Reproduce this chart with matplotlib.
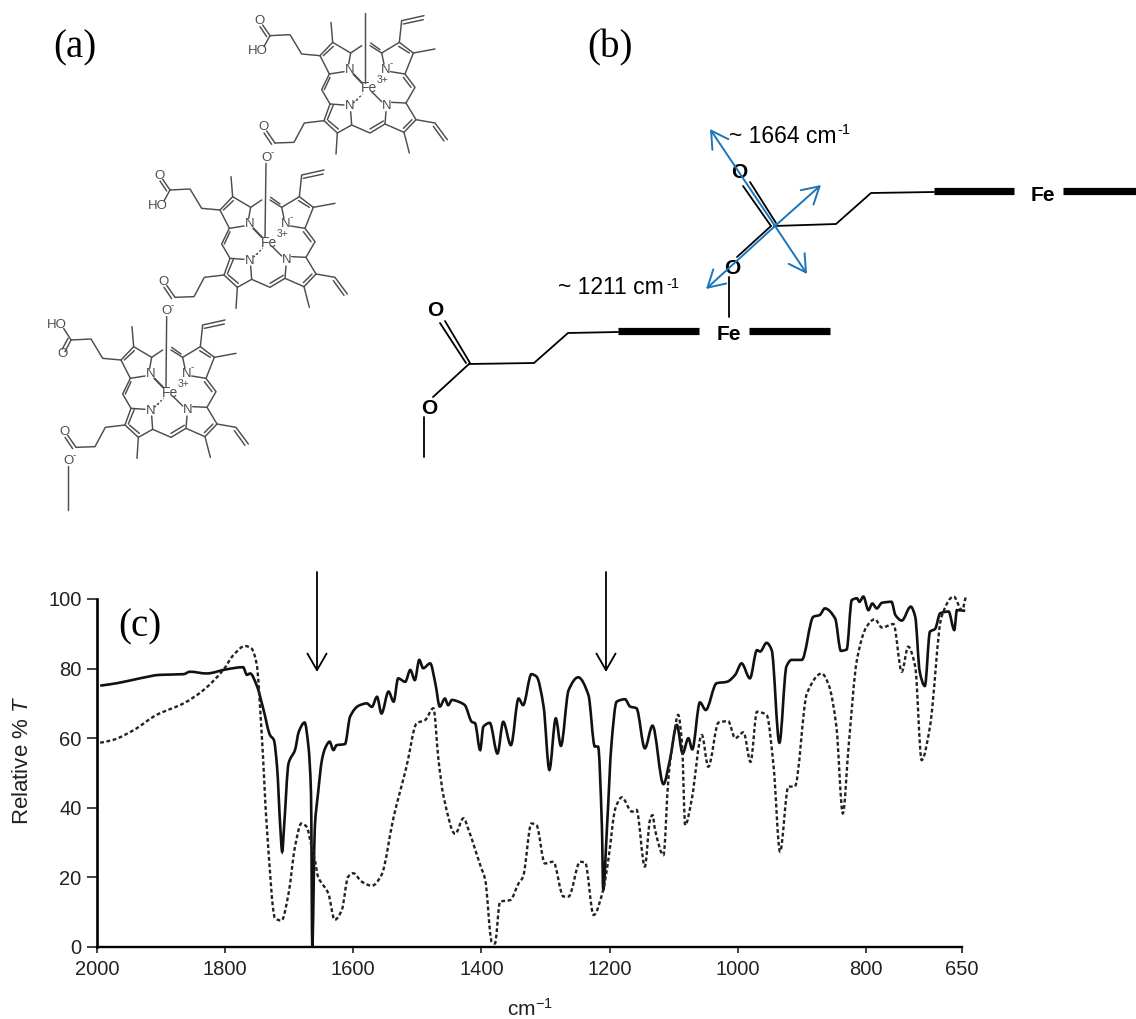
import matplotlib

matplotlib.use("Agg")
import matplotlib.pyplot as plt
import numpy as np
from matplotlib.patches import PathPatch
from matplotlib.path import Path

plt.rcParams["font.family"] = ["Liberation Sans", "DejaVu Sans"]
plt.rcParams["mathtext.fontset"] = "custom"
plt.rcParams["mathtext.rm"] = "Liberation Sans"
plt.rcParams["mathtext.it"] = "Liberation Sans:italic"
plt.rcParams["mathtext.default"] = "regular"

# solid spectrum
solid_x = [1995, 1969, 1933, 1902, 1865, 1855, 1829, 1798, 1772, 1766, 1761, 1751, 1740, 1730, 1724,
           1719, 1714, 1711, 1708, 1701, 1691, 1685, 1676, 1670, 1666, 1664, 1660, 1655, 1649, 1644,
           1637, 1631, 1626, 1613, 1605, 1592, 1579, 1571, 1563, 1556, 1545, 1537, 1530, 1519, 1511,
           1504, 1497, 1491, 1480, 1472, 1465, 1457, 1452, 1446, 1436, 1426, 1415, 1410, 1402, 1397,
           1387, 1375, 1366, 1354, 1342, 1335, 1322, 1314, 1303, 1294, 1284, 1276, 1264, 1249, 1233,
           1223, 1218, 1212, 1210, 1204, 1197, 1189, 1176, 1168, 1158, 1145, 1133, 1116, 1106, 1095,
           1086, 1077, 1071, 1059, 1050, 1033, 1017, 1004, 994, 981, 970, 965, 955, 947, 935,
           924, 916, 900, 882, 872, 864, 848, 839, 830, 822, 814, 810, 804, 796, 790,
           783, 775, 760, 754, 744, 730, 723, 716, 708, 700, 692, 684, 671, 662, 658, 645]
solid_y = [75.1, 75.8, 77.2, 78.2, 78.4, 79.1, 78.6, 79.8, 80.4, 78.2, 78.6, 75.3, 68.1, 60.9, 59.5,
           51.8, 34.6, 27.4, 34.6, 52.8, 56.6, 61.9, 64.5, 57.6, 44.2, 0.0, 34.6, 44.2, 53.7, 57.1,
           59.0, 56.6, 58.0, 58.3, 66.2, 69.3, 70.0, 69.0, 71.9, 67.1, 73.4, 70.5, 77.2, 76.2, 79.6,
           76.7, 82.5, 80.1, 81.5, 75.8, 69.1, 71.4, 69.5, 71.0, 70.5, 69.5, 64.7, 64.3, 56.6, 63.3,
           64.4, 55.6, 64.7, 58.0, 71.4, 69.5, 78.4, 77.7, 69.1, 50.9, 65.7, 57.8, 73.8, 77.5, 72.4,
           57.6, 57.6, 34.6, 16.4, 34.6, 58.5, 70.5, 71.2, 69.1, 68.6, 57.1, 63.6, 46.8, 53.7, 63.8,
           55.6, 60.0, 56.8, 70.3, 68.1, 75.8, 76.2, 78.2, 81.5, 77.2, 85.3, 84.9, 87.4, 85.3, 58.7,
           80.6, 82.5, 82.5, 94.9, 95.4, 97.3, 94.4, 85.1, 85.5, 99.7, 100.2, 99.2, 100.7, 96.8, 98.7,
           97.3, 98.9, 99.2, 95.4, 93.8, 97.8, 94.9, 79.1, 75.0, 90.6, 91.4, 95.9, 96.4, 91.1, 96.8, 96.6]

# dashed spectrum
dashed_x = [1995, 1975, 1943, 1907, 1865, 1834, 1803, 1787, 1769, 1759, 1751, 1743, 1735, 1722, 1712,
            1701, 1691, 1681, 1673, 1665, 1660, 1655, 1639, 1629, 1618, 1608, 1600, 1587, 1571, 1556,
            1537, 1517, 1501, 1488, 1475, 1467, 1459, 1441, 1428, 1420, 1402, 1394, 1384, 1379, 1371,
            1355, 1342, 1335, 1322, 1314, 1301, 1288, 1272, 1264, 1246, 1238, 1225, 1210, 1202, 1191,
            1181, 1165, 1158, 1145, 1137, 1133, 1129, 1116, 1108, 1100, 1093, 1087, 1082, 1072, 1056,
            1046, 1030, 1015, 1004, 991, 980, 970, 955, 944, 934, 921, 911, 892, 869, 858,
            846, 836, 827, 814, 799, 786, 775, 757, 744, 734, 723, 713, 700, 682, 663, 650, 644]
dashed_y = [58.7, 59.5, 62.3, 66.7, 70.0, 73.8, 79.6, 83.9, 86.5, 85.8, 81.5, 61.4, 34.6, 8.2, 7.6,
            15.4, 28.8, 35.5, 34.6, 28.8, 25.0, 20.2, 15.4, 7.8, 10.6, 20.2, 21.2, 18.8, 17.6, 20.7,
            37.4, 51.8, 64.3, 65.2, 68.6, 53.7, 43.2, 32.5, 37.0, 33.6, 23.6, 19.2, 1.5, 1.0, 13.0,
            13.5, 18.3, 20.2, 35.5, 35.0, 24.0, 24.5, 14.5, 14.5, 24.5, 24.2, 9.2, 16.4, 25.0, 39.8,
            43.0, 38.9, 39.4, 23.1, 36.5, 37.9, 33.6, 26.4, 48.9, 60.4, 66.7, 58.5, 35.0, 42.2, 60.9,
            51.8, 64.5, 64.9, 60.0, 61.7, 53.2, 67.6, 66.7, 51.8, 27.4, 46.1, 46.1, 72.9, 78.6, 75.3,
            63.3, 38.4, 57.6, 82.5, 92.0, 94.2, 91.8, 92.8, 79.1, 86.3, 80.5, 53.7, 63.3, 94.9, 100.7, 96.8, 100.7]

x_ticks = [2000, 1800, 1600, 1400, 1200, 1000, 800, 650]
y_ticks = [0, 20, 40, 60, 80, 100]

W, H = 1136, 1019
GREY = "#4d4d4d"
BLUE = "#1b75bb"

# heme drawing, polylines in the coordinates of the middle molecule
HEME_LINES = [
    [(600, 630), (638, 590), (692, 622), (686, 655)],
    [(672, 678), (628, 685), (600, 630)],
    [(610, 630), (640, 602)],
    [(638, 590), (633, 530)],
    [(692, 622), (725, 600)],
    [(600, 630), (545, 625), (510, 567), (450, 570)],
    [(880, 622), (838, 590), (785, 622), (792, 655)],
    [(812, 678), (855, 685), (880, 622)],
    [(868, 622), (836, 602)],
    [(880, 622), (945, 610)],
    [(838, 590), (845, 525), (912, 510)],
    [(850, 535), (910, 522)],
    [(785, 622), (750, 600)],
    [(780, 612), (752, 592)],
    [(628, 685), (605, 732), (630, 775)],
    [(630, 695), (613, 732)],
    [(855, 685), (885, 725), (858, 772)],
    [(850, 695), (873, 725)],
    [(672, 778), (630, 775), (612, 825), (652, 862), (695, 838), (692, 798)],
    [(625, 825), (655, 850)],
    [(640, 778), (622, 822)],
    [(612, 825), (553, 832), (522, 890), (465, 892)],
    [(652, 862), (648, 925)],
    [(815, 770), (858, 772), (888, 822), (852, 860), (795, 835), (798, 798)],
    [(876, 822), (850, 848)],
    [(888, 822), (945, 832), (982, 882)],
    [(940, 842), (972, 886)],
    [(852, 860), (868, 922)],
    [(695, 838), (750, 862), (795, 835)],
    [(750, 850), (790, 826)],
    [(465, 892), (440, 856)],
    [(455, 896), (432, 862)],
    [(755, 738), (785, 768)],
]
CARBOXYL_UP = [[(450, 570), (428, 538)], [(440, 573), (420, 543)], [(450, 570), (432, 603)]]
CARBOXYL_DOWN = [[(450, 570), (432, 605)], [(441, 565), (424, 597)], [(450, 570), (428, 535)]]


def zoom_to_px(px, py, dx, dy):
    """Goes from the middle molecule coordinates to figure pixels."""
    return 20 + (px + dx) / 3, (py + dy) / 3


def draw_line(ax, points, dx, dy, **style):
    xs, ys = zip(*[zoom_to_px(p[0], p[1], dx, dy) for p in points])
    ax.plot(xs, ys, solid_capstyle="round", **style)


def draw_heme(ax, dx, dy, flip_acid):
    style = {"color": GREY, "lw": 1.05}
    for line in HEME_LINES:
        draw_line(ax, line, dx, dy, **style)
    for line in CARBOXYL_DOWN if flip_acid else CARBOXYL_UP:
        draw_line(ax, line, dx, dy, **style)

    # dashed and wedge bonds to the iron
    draw_line(ax, [(700, 685), (726, 712)], dx, dy, color=GREY, lw=1.5)
    draw_line(ax, [(700, 772), (728, 745)], dx, dy, color=GREY, lw=1.0, ls=(0, (1.5, 1.5)))

    labels = [("N", 688, 673, 9.5), ("N", 690, 782, 9.5), ("N", 800, 780, 9.5), ("N", 797, 672, 9.5),
              ("Fe", 747, 728, 10), ("3+", 788, 703, 7.5), ("-", 815, 652, 7), ("-", 710, 763, 7)]
    if flip_acid:
        labels += [("O", 425, 612, 9.5), ("HO", 408, 525, 9.5)]
    else:
        labels += [("O", 418, 527, 9.5), ("HO", 413, 617, 9.5)]
    labels += [("O", 430, 845, 9.5)]
    for text, px, py, size in labels:
        x, y = zoom_to_px(px, py, dx, dy)
        ax.text(x, y, text, color=GREY, fontsize=size, ha="center", va="center")


def draw_arrow(ax, start, tip, color, lw):
    ax.annotate("", xy=tip, xytext=start,
                arrowprops=dict(arrowstyle="->,head_length=0.4,head_width=0.23", color=color, lw=lw,
                                mutation_scale=30, shrinkA=0, shrinkB=0))


def draw_molecules(ax):
    # top, middle and lower heme
    draw_heme(ax, 300, -463, False)
    draw_heme(ax, 0, 0, False)
    draw_heme(ax, -297, 450, True)

    # axial lines and the oxygen bridges
    style = {"color": GREY, "lw": 1.05}
    draw_line(ax, [(1035, 40), (1035, 250)], 0, 0, **style)
    draw_line(ax, [(738, 490), (735, 710)], 0, 0, **style)
    draw_line(ax, [(440, 950), (438, 1160)], 0, 0, **style)
    draw_line(ax, [(143, 1398), (143, 1530)], 0, 0, **style)
    for text, px, py in [("O", 738, 473), ("O", 440, 933), ("O", 145, 1382)]:
        x, y = zoom_to_px(px, py, 0, 0)
        ax.text(x, y, text, color=GREY, fontsize=9.5, ha="center", va="center")
        ax.text(x + 6, y - 6, "-", color=GREY, fontsize=7, ha="center", va="center")


def draw_scheme(ax):
    line = {"color": "black", "lw": 1.3, "solid_capstyle": "round"}
    thick = {"color": "black", "lw": 5.2, "solid_capstyle": "butt"}

    # upper ester
    ax.plot([774, 836, 871, 934], [226, 224, 193, 192], **line)
    ax.plot([743, 771], [186, 226], **line)
    ax.plot([750, 776], [182, 223], **line)
    ax.plot([771, 737], [226, 257], **line)
    ax.plot([729, 729], [277, 317], **line)
    ax.plot([934, 1014], [191, 191], **thick)
    ax.plot([1063, 1136], [191, 191], **thick)

    # lower ester
    ax.plot([469, 534, 568, 618], [364, 363, 333, 332], **line)
    ax.plot([440, 466], [323, 363], **line)
    ax.plot([445, 470], [321, 363], **line)
    ax.plot([469, 433], [364, 397], **line)
    ax.plot([424, 424], [417, 457], **line)
    ax.plot([618, 699], [331, 331], **thick)
    ax.plot([749, 830], [331, 331], **thick)

    for text, x, y in [("O", 739, 172), ("O", 732, 268), ("O", 435, 311), ("O", 429, 408),
                       ("Fe", 1043, 195), ("Fe", 729, 334)]:
        ax.text(x, y, text, fontsize=15, fontweight="bold", ha="center", va="center")

    # stretching directions
    draw_arrow(ax, (775, 226), (710, 129), BLUE, 1.4)
    draw_arrow(ax, (775, 226), (807, 274), BLUE, 1.4)
    draw_arrow(ax, (775, 226), (821, 185), BLUE, 1.4)
    draw_arrow(ax, (775, 226), (706, 289), BLUE, 1.4)

    ax.text(729, 136, "~ 1664 cm", fontsize=16.5, ha="left", va="center")
    ax.text(837, 130, "-1", fontsize=10.5, ha="left", va="center")
    ax.text(558, 288, "~ 1211 cm", fontsize=16.5, ha="left", va="center")
    ax.text(666, 284, "-1", fontsize=10.5, ha="left", va="center")


def smooth_path(xs, ys):
    """Curve through the read points only, flat at each peak and dip so it never overshoots."""
    x = np.array(xs, dtype=float)
    y = np.array(ys, dtype=float)
    h = np.diff(x)
    secant = np.diff(y) / h
    slope = np.zeros(len(x))
    for i in range(1, len(x) - 1):
        if secant[i - 1] * secant[i] > 0:
            slope[i] = 2 * secant[i - 1] * secant[i] / (secant[i - 1] + secant[i])
    slope[0] = secant[0]
    slope[-1] = secant[-1]

    verts = [(x[0], y[0])]
    codes = [Path.MOVETO]
    for i in range(len(h)):
        verts.append((x[i] + h[i] / 3, y[i] + slope[i] * h[i] / 3))
        verts.append((x[i + 1] - h[i] / 3, y[i + 1] - slope[i + 1] * h[i] / 3))
        verts.append((x[i + 1], y[i + 1]))
        codes += [Path.CURVE4, Path.CURVE4, Path.CURVE4]
    return Path(verts, codes)


def draw_spectrum(fig):
    ax = fig.add_axes([97 / W, 1 - 947 / H, 865 / W, 348 / H])
    ax.add_patch(PathPatch(smooth_path(solid_x, solid_y), fill=False, edgecolor="#111111", lw=1.9,
                           clip_on=False))
    ax.add_patch(PathPatch(smooth_path(dashed_x, dashed_y), fill=False, edgecolor="#222222", lw=1.7,
                           ls=(0, (1.6, 1.1)), clip_on=False))
    ax.set_xlim(2000, 650)
    ax.set_ylim(0, 100)
    ax.set_xticks(x_ticks)
    ax.set_yticks(y_ticks)
    ax.tick_params(axis="x", labelsize=14.5, length=4, width=1.2, pad=5.5, colors="#222222")
    ax.tick_params(axis="y", labelsize=14.5, length=7, width=1.2, pad=4, colors="#222222")
    ax.spines["top"].set_visible(False)
    ax.spines["right"].set_visible(False)
    ax.spines["left"].set_linewidth(1.9)
    ax.spines["bottom"].set_linewidth(1.7)
    ax.patch.set_alpha(0)
    ax.set_ylabel("Relative % $\\mathit{T}$", fontsize=16, color="#222222", va="center")
    ax.yaxis.set_label_coords(-0.086, 0.537)
    ax.set_xlabel("cm$^{-1}$", fontsize=15, color="#222222", va="center")
    ax.xaxis.set_label_coords(0.5, -0.178)


def main():
    fig = plt.figure(figsize=(W / 100, H / 100), dpi=100)

    sketch = fig.add_axes([0, 0, 1, 1])
    sketch.set_xlim(0, W)
    sketch.set_ylim(H, 0)
    sketch.axis("off")

    draw_spectrum(fig)
    draw_molecules(sketch)
    draw_scheme(sketch)

    # arrows from the scheme down to the two bands
    draw_arrow(sketch, (317, 572), (317, 672), "black", 1.3)
    draw_arrow(sketch, (606, 572), (606, 672), "black", 1.3)

    for text, x, y in [("(a)", 53, 48), ("(b)", 587, 48), ("(c)", 118, 627)]:
        sketch.text(x, y, text, family="Liberation Serif", fontsize=28, ha="left", va="center")

    fig.savefig("out.png", dpi=100)


if __name__ == "__main__":
    main()
